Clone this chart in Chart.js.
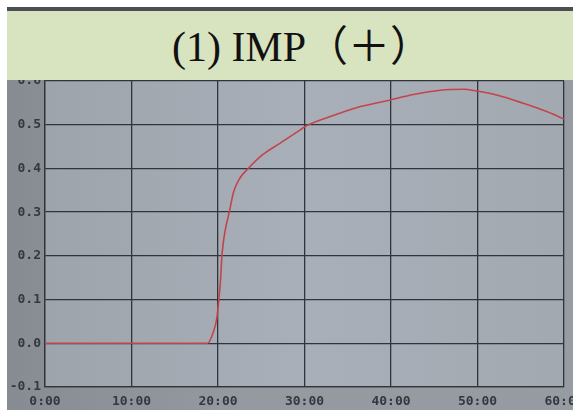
<!DOCTYPE html>
<html>
<head>
<meta charset="utf-8">
<script src="https://cdn.jsdelivr.net/npm/chart.js@4.4.1/dist/chart.umd.min.js"></script>
<style>
  html, body { margin: 0; padding: 0; background: #fff; overflow: hidden; width: 573px; height: 410px; }
  #screen {
    position: absolute; left: 7px; top: 7px; width: 600px; height: 403px;
    background: linear-gradient(90deg, #878c93 0%, #959aa1 40%, #979ca3 100%);
  }
  #strip { position: absolute; left: 7px; top: 7px; width: 566px; height: 4px; background: #4b4e53; z-index: 2; }
  #banner {
    position: absolute; left: 7px; top: 11px; width: 566px; height: 69px; z-index: 3;
    box-sizing: border-box; padding-left: 24px;
    overflow: hidden; background: #d8e3bf; color: #111;
    font-family: "Liberation Serif", "Noto Sans CJK SC", serif; font-size: 42px;
    line-height: 73px; text-align: center;
  }
  #chart { position: absolute; left: 7px; top: 7px; z-index: 1; }
</style>
</head>
<body>
<div id="screen"></div>
<div id="strip"></div>
<div id="banner">(1) IMP（＋）</div>
<canvas id="chart" width="600" height="403"></canvas>
<script>
// temps en minutes et valeur mesurée
const minutes = [0, 18.8, 19.45, 19.85, 20.1, 20.3, 20.45, 20.8, 21.3, 21.8, 22.5, 23.5,
  25.2, 27.2, 29.5, 30.0, 32.9, 36.0, 39.8, 42.6, 45.7, 48.4, 49.9, 52.2, 55.3, 58.0, 60.0];
const values = [0, 0, 0.025, 0.056, 0.10, 0.147, 0.20, 0.255, 0.30, 0.346, 0.377, 0.40,
  0.432, 0.458, 0.488, 0.495, 0.518, 0.539, 0.556, 0.569, 0.579, 0.581, 0.577, 0.568, 0.549, 0.53, 0.513];
const xTicks = [0, 10, 20, 30, 40, 50, 60];
const yTicks = [-0.1, 0, 0.1, 0.2, 0.3, 0.4, 0.5, 0.6];

const points = minutes.map((m, i) => ({ x: m, y: values[i] }));

// fond gris clair de la zone de tracé
const plotBg = {
  id: 'plotBg',
  beforeDraw(chart) {
    const { ctx, chartArea: a } = chart;
    const g = ctx.createLinearGradient(a.left, 0, a.right, 0);
    g.addColorStop(0, '#9ea4ac');
    g.addColorStop(0.5, '#a9afb8');
    g.addColorStop(1, '#a3a9b1');
    ctx.save();
    ctx.fillStyle = g;
    ctx.fillRect(a.left, a.top, a.right - a.left, a.bottom - a.top);
    ctx.restore();
  }
};

const tickFont = { family: 'DejaVu Sans Mono', size: 13, weight: 'bold' };
const gridCol = '#30353d';

new Chart(document.getElementById('chart'), {
  type: 'scatter',
  data: {
    datasets: [{
      data: points,
      showLine: true,
      borderColor: '#c4444c',
      borderWidth: 1.6,
      pointRadius: 0,
      cubicInterpolationMode: 'monotone'
    }]
  },
  options: {
    responsive: false,
    animation: false,
    layout: { padding: { left: 0, top: 74, right: 43, bottom: 0 } },
    plugins: { legend: { display: false }, tooltip: { enabled: false } },
    scales: {
      x: {
        type: 'linear', min: 0, max: 60,
        afterBuildTicks: s => { s.ticks = xTicks.map(v => ({ value: v })); },
        afterFit: s => { s.height = 23; },
        grid: { color: gridCol, lineWidth: 1.3, drawTicks: false },
        border: { color: gridCol, width: 1.3 },
        ticks: { font: tickFont, color: '#34383f', padding: 7, maxRotation: 0,
                 callback: v => v + ':00' }
      },
      y: {
        min: -0.1, max: 0.6,
        afterBuildTicks: s => { s.ticks = yTicks.map(v => ({ value: v })); },
        afterFit: s => { s.width = 38; },
        grid: { color: gridCol, lineWidth: 1.3, drawTicks: false },
        border: { color: gridCol, width: 1.3 },
        ticks: { font: tickFont, color: '#34383f', padding: 4,
                 callback: v => v.toFixed(1) }
      }
    }
  },
  plugins: [plotBg]
});
</script>
</body>
</html>
